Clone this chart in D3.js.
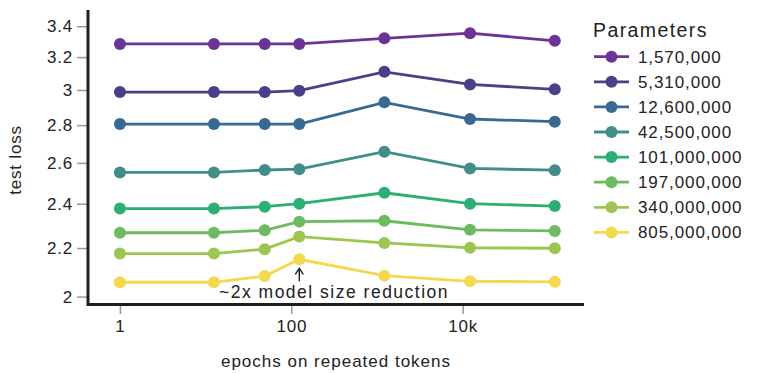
<!DOCTYPE html>
<html>
<head>
<meta charset="utf-8">
<script src="https://cdn.jsdelivr.net/npm/d3@7"></script>
<style>
  html, body { margin: 0; padding: 0; background: #fff; }
  svg text { font-family: "Liberation Sans", Arial, sans-serif; fill: #222; }
</style>
</head>
<body>
<svg id="chart" width="773" height="374"></svg>
<script>
// epochs on repeated tokens (x positions of the points)
const epochs = [1, 12.5, 49, 124, 1220, 12200, 119000];

const paramLabels = ['1,570,000', '5,310,000', '12,600,000', '42,500,000',
  '101,000,000', '197,000,000', '340,000,000', '805,000,000'];

const seriesColors = ['#6c3396', '#4a3f89', '#386993', '#408e87',
  '#2baf73', '#6cbb5e', '#9cc64f', '#f4d94c'];

// test loss, one list per model size
const loss1570k = [3.284, 3.284, 3.284, 3.284, 3.32, 3.354, 3.304];
const loss5310k = [2.988, 2.988, 2.988, 2.996, 3.109, 3.033, 3.004];
const loss12600k = [2.806, 2.806, 2.806, 2.806, 2.928, 2.834, 2.819];
const loss42500k = [2.552, 2.552, 2.564, 2.568, 2.658, 2.572, 2.563];
const loss101m = [2.377, 2.377, 2.386, 2.400, 2.452, 2.400, 2.389];
const loss197m = [2.267, 2.267, 2.278, 2.317, 2.321, 2.280, 2.275];
const loss340m = [2.176, 2.176, 2.195, 2.250, 2.222, 2.201, 2.199];
const loss805m = [2.057, 2.057, 2.082, 2.152, 2.084, 2.061, 2.059];

const yTicks = [2, 2.2, 2.4, 2.6, 2.8, 3, 3.2, 3.4];
const xTicks = [1, 100, 10000];
const xTickLabels = ['1', '100', '10k'];

const allLoss = [loss1570k, loss5310k, loss12600k, loss42500k, loss101m, loss197m, loss340m, loss805m];

const svg = d3.select('#chart');
const plot = { left: 88, right: 584, top: 10, bottom: 303 };

const x = d3.scaleLog().domain([0.424, 260900]).range([plot.left, plot.right]);
const y = d3.scaleLog().domain([1.975, 3.51]).range([plot.bottom, plot.top]);

// Axes
const yAxis = svg.append('g')
  .attr('transform', `translate(${plot.left - 1}, 0)`)
  .call(d3.axisLeft(y).tickValues(yTicks).tickSize(10).tickSizeOuter(0).tickPadding(4)
    .tickFormat(d3.format('')));
yAxis.select('.domain').remove();
yAxis.selectAll('.tick line').attr('stroke', '#999').attr('stroke-width', 1.5);
yAxis.selectAll('.tick text')
  .style('font-size', '17px').style('letter-spacing', '0.8px')
  .attr('font-family', null).attr('fill', '#222');

const xAxis = svg.append('g')
  .attr('transform', `translate(0, ${plot.bottom + 1})`)
  .call(d3.axisBottom(x).tickValues(xTicks).tickSize(10).tickSizeOuter(0).tickPadding(6)
    .tickFormat((d, i) => xTickLabels[i]));
xAxis.select('.domain').remove();
xAxis.selectAll('.tick line').attr('stroke', '#999').attr('stroke-width', 1.5);
xAxis.selectAll('.tick text')
  .style('font-size', '17px').style('letter-spacing', '0.8px')
  .attr('font-family', null).attr('fill', '#222');

// Frame lines (left + bottom)
svg.append('path')
  .attr('d', `M${plot.left},${plot.top} V${plot.bottom + 1.5} H${plot.right}`)
  .attr('fill', 'none')
  .attr('stroke', '#1e1e1e')
  .attr('stroke-width', 3);

// Series
const line = d3.line().x((d, i) => x(epochs[i])).y(d => y(d));

allLoss.forEach((vals, s) => {
  svg.append('path')
    .datum(vals)
    .attr('fill', 'none')
    .attr('stroke', seriesColors[s])
    .attr('stroke-width', 2.8)
    .attr('d', line);
  svg.append('g').selectAll('circle')
    .data(vals)
    .join('circle')
    .attr('cx', (d, i) => x(epochs[i]))
    .attr('cy', d => y(d))
    .attr('r', 6)
    .attr('fill', seriesColors[s]);
});

// Annotation
const annX = x(epochs[3]);
const annY = y(loss805m[3]);
svg.append('path')
  .attr('d', `M${annX},${annY + 22} V${annY + 10} M${annX - 4},${annY + 15} L${annX},${annY + 9} L${annX + 4},${annY + 15}`)
  .attr('fill', 'none')
  .attr('stroke', '#222')
  .attr('stroke-width', 1.4);
svg.append('text')
  .attr('x', 219)
  .attr('y', 297.5)
  .style('font-size', '17.5px')
  .style('letter-spacing', '1.5px')
  .text('~2x model size reduction');

// Axis labels
svg.append('text')
  .attr('x', 336)
  .attr('y', 366.5)
  .attr('text-anchor', 'middle')
  .style('font-size', '17px')
  .style('letter-spacing', '1px')
  .text('epochs on repeated tokens');

svg.append('text')
  .attr('transform', 'translate(21, 160) rotate(-90)')
  .attr('text-anchor', 'middle')
  .style('font-size', '17px')
  .style('letter-spacing', '0.8px')
  .text('test loss');

// Legend
const legend = svg.append('g').attr('transform', 'translate(593, 0)');
legend.append('text')
  .attr('x', 0)
  .attr('y', 36.7)
  .style('font-size', '19.5px')
  .style('letter-spacing', '1.4px')
  .text('Parameters');

paramLabels.forEach((lab, i) => {
  const cy = 56.7 + i * 25.1;
  legend.append('line')
    .attr('x1', 1).attr('x2', 36)
    .attr('y1', cy).attr('y2', cy)
    .attr('stroke', seriesColors[i])
    .attr('stroke-width', 2.8);
  legend.append('circle')
    .attr('cx', 18.5).attr('cy', cy).attr('r', 6)
    .attr('fill', seriesColors[i]);
  legend.append('text')
    .attr('x', 45)
    .attr('y', cy + 6)
    .style('font-size', '17px')
    .style('letter-spacing', '0.9px')
    .text(lab);
});
</script>
</body>
</html>
